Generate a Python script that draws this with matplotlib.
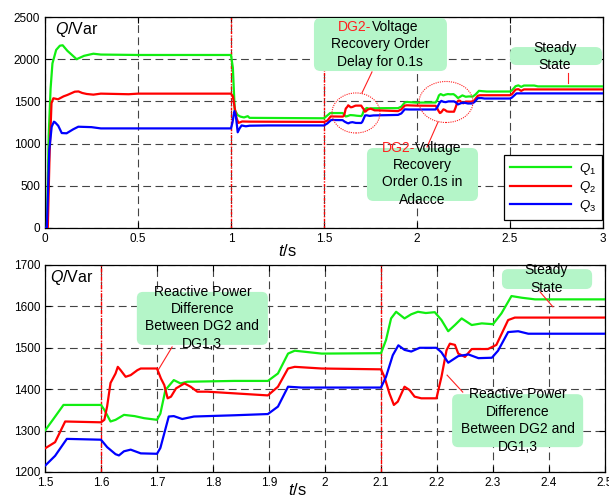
import numpy as np
import matplotlib
matplotlib.use("Agg")
import matplotlib.pyplot as plt
from matplotlib.patches import FancyBboxPatch, Ellipse

plt.rcParams['font.family'] = ['Liberation Sans', 'DejaVu Sans']
plt.rcParams['mathtext.fontset'] = 'custom'
plt.rcParams['mathtext.rm'] = 'Liberation Sans'
plt.rcParams['mathtext.it'] = 'Liberation Sans:italic'

# Q1 (green)
t1 = [0, 0.01, 0.02, 0.03, 0.04, 0.06, 0.08, 0.095, 0.12, 0.17, 0.21, 0.26, 0.3, 0.5, 1.0,
      1.01, 1.02, 1.035, 1.05, 1.07, 1.09, 1.1, 1.5,
      1.515, 1.533, 1.6, 1.606, 1.617, 1.626, 1.641, 1.66, 1.677, 1.7, 1.706, 1.715, 1.73,
      1.742, 1.754, 1.838, 1.898, 1.916, 1.934, 1.946, 1.994, 2.1, 2.109, 2.118, 2.127,
      2.142, 2.154, 2.166, 2.18, 2.196, 2.208, 2.22, 2.232, 2.244, 2.262, 2.28, 2.3, 2.315,
      2.333, 2.351, 2.375, 2.5, 2.51, 2.53, 2.545, 2.56, 2.575, 2.63, 2.65, 3.0]
q1 = [0, 0, 1100, 1650, 1950, 2110, 2160, 2165, 2100, 2000, 2040, 2065, 2055, 2050, 2050,
      1900, 1400, 1340, 1320, 1310, 1325, 1305, 1300,
      1328, 1362, 1362, 1350, 1322, 1326, 1338, 1335, 1330, 1326, 1341, 1398, 1422,
      1414, 1418, 1420, 1420, 1438, 1486, 1493, 1486, 1487, 1519, 1571, 1587,
      1571, 1581, 1587, 1584, 1586, 1567, 1540, 1555, 1571, 1555, 1559, 1557, 1583,
      1625, 1621, 1617, 1617, 1630, 1680, 1690, 1672, 1688, 1688, 1678, 1678]

# Q2 (red)
t2 = [0, 0.015, 0.025, 0.035, 0.045, 0.06, 0.07, 0.1, 0.12, 0.16, 0.18, 0.2, 0.224, 0.26,
      0.3, 0.45, 0.5, 1.0, 1.01, 1.02, 1.03, 1.04, 1.06, 1.1, 1.5,
      1.518, 1.536, 1.6, 1.606, 1.611, 1.617, 1.626, 1.63, 1.635, 1.644, 1.653, 1.665,
      1.671, 1.7, 1.707, 1.713, 1.719, 1.725, 1.734, 1.749, 1.76, 1.772, 1.79, 1.838,
      1.898, 1.916, 1.934, 1.946, 1.994, 2.1, 2.106, 2.115, 2.123, 2.13, 2.142, 2.151,
      2.16, 2.172, 2.199, 2.208, 2.217, 2.223, 2.232, 2.238, 2.25, 2.262, 2.291, 2.306,
      2.327, 2.339, 2.5, 2.51, 2.53, 2.545, 2.56, 2.575, 3.0]
q2 = [0, 0, 900, 1480, 1537, 1530, 1525, 1560, 1576, 1615, 1618, 1600, 1588, 1580,
      1592, 1585, 1592, 1592, 1560, 1420, 1300, 1245, 1262, 1260, 1257,
      1272, 1322, 1320, 1326, 1359, 1415, 1438, 1454, 1446, 1430, 1434, 1446,
      1450, 1450, 1426, 1410, 1378, 1382, 1402, 1414, 1406, 1394, 1394, 1390,
      1385, 1406, 1450, 1454, 1450, 1448, 1430, 1390, 1362, 1370, 1406, 1398,
      1382, 1378, 1378, 1430, 1494, 1510, 1507, 1486, 1478, 1497, 1497, 1507,
      1567, 1573, 1573, 1585, 1640, 1645, 1625, 1642, 1642]

# Q3 (blue)
t3 = [0, 0.01, 0.023, 0.036, 0.048, 0.055, 0.071, 0.09, 0.116, 0.152, 0.179, 0.25, 0.3,
      1.0, 1.008, 1.018, 1.026, 1.036, 1.046, 1.057, 1.08, 1.1, 1.2, 1.5,
      1.518, 1.539, 1.6, 1.611, 1.626, 1.632, 1.641, 1.653, 1.671, 1.7, 1.706, 1.721,
      1.73, 1.745, 1.766, 1.838, 1.898, 1.916, 1.934, 1.958, 2.1, 2.109, 2.121, 2.131,
      2.142, 2.154, 2.169, 2.199, 2.208, 2.22, 2.238, 2.256, 2.274, 2.298, 2.309, 2.327,
      2.345, 2.363, 2.5, 2.51, 2.535, 3.0]
q3 = [0, 0, 924, 1200, 1260, 1250, 1212, 1125, 1122, 1170, 1200, 1195, 1180,
      1180, 1250, 1385, 1330, 1134, 1180, 1215, 1205, 1212, 1215, 1215,
      1239, 1280, 1278, 1260, 1243, 1240, 1250, 1254, 1245, 1244, 1258, 1334,
      1335, 1328, 1334, 1337, 1340, 1358, 1406, 1404, 1404, 1430, 1482, 1506,
      1495, 1491, 1500, 1500, 1489, 1464, 1480, 1484, 1475, 1476, 1493, 1538,
      1540, 1534, 1534, 1545, 1595, 1595]

series = [(t1, q1, '#11ee11', r'$Q_1$'),
          (t2, q2, '#ff0000', r'$Q_2$'),
          (t3, q3, '#0000ff', r'$Q_3$')]

top_xticks = [0, 0.5, 1, 1.5, 2, 2.5, 3]
top_yticks = [0, 500, 1000, 1500, 2000, 2500]
bot_xticks = [1.5, 1.6, 1.7, 1.8, 1.9, 2, 2.1, 2.2, 2.3, 2.4, 2.5]
bot_yticks = [1200, 1300, 1400, 1500, 1600, 1700]

BOX_GREEN = '#b4f5c8'
NOTE_RED = '#ff2020'


def style_axes(ax, xticks, yticks):
    ax.set_xticks(xticks)
    ax.set_yticks(yticks)
    ax.set_xticklabels(['%g' % v for v in xticks])
    ax.set_yticklabels(['%g' % v for v in yticks])
    ax.tick_params(direction='in', top=True, right=True, length=4, labelsize=8.5, width=0.8)
    ax.grid(True, color='#444444', linestyle=(0, (7, 4)), linewidth=0.8)
    for s in ax.spines.values():
        s.set_linewidth(0.9)


def note_box(ax, x0, x1, y0, y1, aspect, r):
    ax.add_patch(FancyBboxPatch((x0, y0), x1 - x0, y1 - y0,
                                boxstyle="round,pad=0,rounding_size=%g" % r,
                                mutation_aspect=aspect, fc=BOX_GREEN, ec='none', zorder=4))


def note_lines(ax, x, ys, lines, fs=10):
    for y, s in zip(ys, lines):
        ax.text(x, y, s, ha='center', va='center', fontsize=fs, zorder=5)


def dg2_line(ax, xsplit, y, fs=10):
    ax.text(xsplit, y, 'DG2-', ha='right', va='center', color=NOTE_RED, fontsize=fs, zorder=5)
    ax.text(xsplit, y, 'Voltage', ha='left', va='center', fontsize=fs, zorder=5)


fig = plt.figure(figsize=(6.09, 5.01), dpi=100)
ax1 = fig.add_axes([45 / 609, 1 - 228 / 501, 558 / 609, 211 / 501])
ax2 = fig.add_axes([45 / 609, 1 - 472 / 501, 560 / 609, 207 / 501])

# ---------- top panel ----------
for t, q, c, lab in series:
    ax1.plot(t, q, color=c, linewidth=1.6, label=lab, zorder=3)
ax1.set_xlim(0, 3)
ax1.set_ylim(0, 2500)
style_axes(ax1, top_xticks, top_yticks)
for xv in [1.0, 1.5]:
    ax1.axvline(xv, color='#ff0000', linestyle=(0, (2, 1, 1, 1)), linewidth=1.0, zorder=2.5)

ax1.text(0.018, 0.943, r'$Q$/Var', transform=ax1.transAxes, fontsize=11.5, va='center')
ax1.text(0.435, -0.109, r'$t$/s', transform=ax1.transAxes, fontsize=12, ha='center', va='center')

asp1 = 2204
note_box(ax1, 1.446, 2.161, 1860, 2488, asp1, 0.035)
dg2_line(ax1, 1.756, 2381)
note_lines(ax1, 1.801, [2180, 1967], ['Recovery Order', 'Delay for 0.1s'])
ax1.add_patch(Ellipse((1.672, 1363), 0.258, 474, fill=False, ec=NOTE_RED,
                      linestyle=(0, (1, 1)), linewidth=0.8, zorder=4))
ax1.plot([1.758, 1.704], [1849, 1600], color=NOTE_RED, linewidth=0.8, zorder=4)

note_box(ax1, 1.731, 2.328, 320, 948, asp1, 0.035)
dg2_line(ax1, 1.989, 948)
note_lines(ax1, 2.027, [746, 545, 332], ['Recovery', 'Order 0.1s in', 'Adacce'])
ax1.add_patch(Ellipse((2.156, 1493), 0.29, 486, fill=False, ec=NOTE_RED,
                      linestyle=(0, (1, 1)), linewidth=0.8, zorder=4))
ax1.plot([2.113, 2.054], [1256, 960], color=NOTE_RED, linewidth=0.8, zorder=4)

note_box(ax1, 2.5, 2.995, 1931, 2144, asp1, 0.035)
note_lines(ax1, 2.742, [2133, 1931], ['Steady', 'State'])
ax1.plot([2.81, 2.81], [1836, 1718], color=NOTE_RED, linewidth=0.8, zorder=4)

leg = ax1.legend(loc='lower right', bbox_to_anchor=(0.998, 0.038), fontsize=9.5,
                 handlelength=4.6, frameon=True, fancybox=False, framealpha=1,
                 edgecolor='black', borderpad=0.45, labelspacing=0.2, handletextpad=0.6,
                 borderaxespad=0)
leg.get_frame().set_linewidth(0.9)
leg.set_zorder(6)

# ---------- bottom panel ----------
for t, q, c, lab in series:
    ax2.plot(t, q, color=c, linewidth=1.6, zorder=3)
ax2.set_xlim(1.5, 2.5)
ax2.set_ylim(1200, 1700)
style_axes(ax2, bot_xticks, bot_yticks)
for xv in [1.6, 2.1]:
    ax2.axvline(xv, color='#ff0000', linestyle=(0, (3, 1, 1, 1)), linewidth=1.0, zorder=2.5)

ax2.text(0.009, 0.94, r'$Q$/Var', transform=ax2.transAxes, fontsize=11.5, va='center')
ax2.text(0.45, -0.087, r'$t$/s', transform=ax2.transAxes, fontsize=12, ha='center', va='center')

asp2 = 1352
diff_lines = ['Reactive Power', 'Difference', 'Between DG2 and', 'DG1,3']
note_box(ax2, 1.664, 1.898, 1507, 1635, asp2, 0.011)
note_lines(ax2, 1.781, [1635, 1594, 1552, 1509], diff_lines)
ax2.plot([1.727, 1.702], [1502, 1446], color=NOTE_RED, linewidth=0.8, zorder=4)

note_box(ax2, 2.227, 2.461, 1260, 1388, asp2, 0.011)
note_lines(ax2, 2.344, [1388, 1346, 1304, 1261], diff_lines)
ax2.plot([2.246, 2.218], [1393, 1434], color=NOTE_RED, linewidth=0.8, zorder=4)

note_box(ax2, 2.316, 2.477, 1642, 1690, asp2, 0.011)
note_lines(ax2, 2.395, [1688, 1645], ['Steady', 'State'])
ax2.plot([2.384, 2.407], [1635, 1599], color=NOTE_RED, linewidth=0.8, zorder=4)

fig.savefig('out.png', dpi=100)
